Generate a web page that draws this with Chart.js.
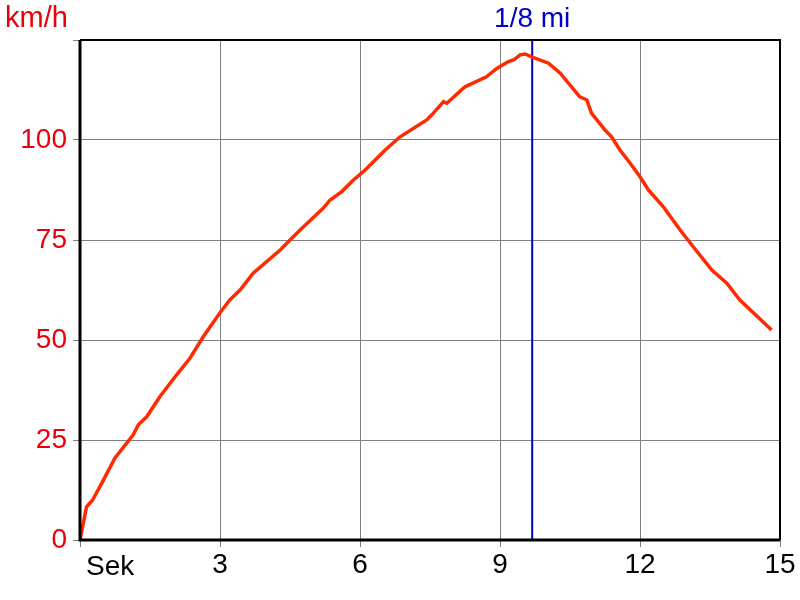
<!DOCTYPE html>
<html>
<head>
<meta charset="utf-8">
<script src="https://cdn.jsdelivr.net/npm/chart.js@4/dist/chart.umd.min.js"></script>
<style>
  html, body { margin: 0; padding: 0; background: #fff; }
  #wrap { width: 800px; height: 600px; }
</style>
</head>
<body>
<div id="wrap"><canvas id="speedChart" width="800" height="600"></canvas></div>
<script>
// time in seconds, speed in km/h
const timeSec = [0, 0.14, 0.27, 0.47, 0.75, 1.14, 1.25, 1.43, 1.71, 2.07, 2.36, 2.64, 3.0, 3.21, 3.43, 3.71,
  4.29, 4.5, 4.75, 5.21, 5.36, 5.61, 5.86, 6.11, 6.54, 6.86, 7.43, 7.54, 7.79, 7.86, 8.25, 8.71, 8.93,
  9.18, 9.29, 9.43, 9.54, 9.68, 10.04, 10.29, 10.71, 10.86, 10.96, 11.25, 11.39, 11.57, 11.79, 12.0,
  12.18, 12.5, 12.86, 13.14, 13.54, 13.86, 14.14, 14.82];
const speedKmh = [0, 8.3, 10, 14.3, 20.5, 26.3, 28.8, 30.8, 35.8, 41.3, 45.5, 50.8, 56.8, 60, 62.5, 66.7,
  72.5, 75, 77.9, 82.9, 85, 87.1, 90, 92.5, 97.5, 100.8, 105, 106.3, 109.6, 109.2, 113.3, 115.8, 117.9,
  119.6, 120, 121.3, 121.5, 120.8, 119.2, 116.7, 110.8, 110, 106.7, 102.5, 100.8, 97.5, 94.2, 90.8,
  87.5, 83.3, 77.5, 73.3, 67.5, 64.2, 60, 52.5];

// eighth-mile mark
const markerTime = 9.69;
const markerLabel = "1/8 mi";

const xTicks = [0, 3, 6, 9, 12, 15];
const yTicks = [0, 25, 50, 75, 100, 125];
const xLabel = "Sek";
const yLabel = "km/h";

const RED_TEXT = "#e8000b";
const LINE_RED = "#ff2a00";
const BLUE = "#0000c8";
const FONT = "Liberation Sans, Arial, sans-serif";

const speedPoints = timeSec.map((t, i) => ({ x: t, y: speedKmh[i] }));
const markerPoints = [{ x: markerTime, y: yTicks[0] }, { x: markerTime, y: yTicks[yTicks.length - 1] }];

// frame + texts around the plot
const framePlugin = {
    id: "frame",
    afterDatasetsDraw(chart) {
        const { ctx, chartArea: a, scales } = chart;
        ctx.save();
        ctx.strokeStyle = "#000";
        ctx.lineWidth = 2;
        ctx.beginPath();
        ctx.moveTo(a.left, a.top);
        ctx.lineTo(a.right, a.top);
        ctx.lineTo(a.right, a.bottom);
        ctx.stroke();
        ctx.lineWidth = 3;
        ctx.beginPath();
        ctx.moveTo(a.left, a.top);
        ctx.lineTo(a.left, a.bottom);
        ctx.lineTo(a.right, a.bottom);
        ctx.stroke();

        ctx.font = "29px " + FONT;
        ctx.textBaseline = "alphabetic";
        ctx.fillStyle = RED_TEXT;
        ctx.textAlign = "left";
        ctx.fillText(yLabel, 5, 27);

        ctx.font = "28px " + FONT;
        ctx.fillStyle = BLUE;
        ctx.textAlign = "center";
        ctx.fillText(markerLabel, scales.x.getPixelForValue(markerTime), 27);

        // unit label sits where the 0 tick would be, left aligned
        ctx.fillStyle = "#000";
        ctx.textAlign = "left";
        ctx.fillText(xLabel, a.left + 6, 575);
        ctx.restore();
    }
};

new Chart(document.getElementById("speedChart"), {
    type: "scatter",
    data: {
        datasets: [
            {
                data: markerPoints,
                showLine: true,
                borderColor: BLUE,
                borderWidth: 2,
                pointRadius: 0,
                order: 2
            },
            {
                data: speedPoints,
                showLine: true,
                borderColor: LINE_RED,
                borderWidth: 3.5,
                pointRadius: 0,
                tension: 0,
                order: 1
            }
        ]
    },
    options: {
        responsive: false,
        animation: false,
        layout: { padding: { top: 40, right: 20, left: 0, bottom: 0 } },
        plugins: { legend: { display: false }, tooltip: { enabled: false } },
        scales: {
            x: {
                type: "linear",
                min: xTicks[0],
                max: xTicks[xTicks.length - 1],
                afterBuildTicks: (scale) => { scale.ticks = xTicks.map(v => ({ value: v })); },
                afterFit: (scale) => { scale.height = 60; },
                grid: { color: "#808080", lineWidth: 1, tickLength: 7, drawOnChartArea: true },
                border: { display: false },
                ticks: {
                    color: "#000",
                    font: { family: FONT, size: 28 },
                    padding: 1,
                    maxRotation: 0,
                    callback: (v) => v === 0 ? "" : String(v)
                }
            },
            y: {
                min: yTicks[0],
                max: yTicks[yTicks.length - 1],
                afterBuildTicks: (scale) => { scale.ticks = yTicks.map(v => ({ value: v })); },
                afterFit: (scale) => { scale.width = 80; },
                grid: { color: "#808080", lineWidth: 1, tickLength: 7 },
                border: { display: false },
                ticks: {
                    color: RED_TEXT,
                    font: { family: FONT, size: 28 },
                    padding: 6,
                    callback: (v) => v === 125 ? "" : String(v)
                }
            }
        }
    },
    plugins: [framePlugin]
});
</script>
</body>
</html>
